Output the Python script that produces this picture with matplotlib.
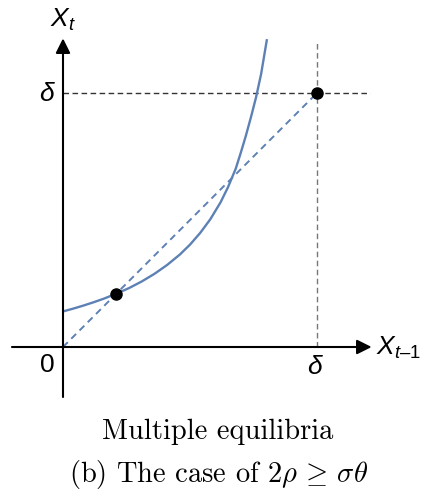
import numpy as np
import matplotlib as mpl
mpl.use('Agg')
import matplotlib.pyplot as plt

# curve X_t = f(X_{t-1}) (units of delta)
x_prev = [0.00, 0.04, 0.08, 0.12, 0.16, 0.21, 0.26, 0.31, 0.36, 0.41, 0.46,
          0.50, 0.54, 0.58, 0.62, 0.65, 0.68, 0.70, 0.72, 0.74, 0.76, 0.78,
          0.803]
x_next = [0.140, 0.151, 0.163, 0.176, 0.190, 0.210, 0.232, 0.258, 0.288,
          0.323, 0.364, 0.403, 0.449, 0.503, 0.569, 0.630, 0.702, 0.765,
          0.832, 0.905, 0.983, 1.075, 1.212]

# equilibria
eq_x = [0.21, 1.0]
eq_y = [0.21, 1.0]
delta = 1.0

blue = '#5E81B5'

plt.rcParams['mathtext.fontset'] = 'custom'
plt.rcParams['mathtext.it'] = 'Liberation Sans:italic'
plt.rcParams['mathtext.rm'] = 'Liberation Sans'

fig = plt.figure(figsize=(4.26, 5.02), dpi=100)
ax = fig.add_axes([0, 0, 1, 1])
ax.set_xlim(-63 / 254, 363 / 254)
ax.set_ylim(-154 / 254, 348 / 254)
ax.axis('off')

# axes with arrows
ax.annotate('', xy=(1.215, 0), xytext=(-0.201, 0),
            arrowprops=dict(arrowstyle='-|>', color='black', lw=1.5,
                            mutation_scale=22, shrinkA=0, shrinkB=0))
ax.annotate('', xy=(0, 1.215), xytext=(0, -0.197),
            arrowprops=dict(arrowstyle='-|>', color='black', lw=1.5,
                            mutation_scale=22, shrinkA=0, shrinkB=0))

# guides at delta
ax.plot([delta, delta], [0, 1.205], ls=(0, (4, 2.5)), color='#777777', lw=1)
ax.plot([0, 1.209], [delta, delta], ls=(0, (4, 2.5)), color='#333333', lw=1)

# 45 degree line and the map
ax.plot([0, delta], [0, delta], ls=(0, (3.5, 2.5)), color=blue, lw=1.4)
ax.plot(x_prev, x_next, color=blue, lw=1.7, solid_capstyle='butt',
        solid_joinstyle='round')
ax.plot(eq_x, eq_y, 'o', color='black', ms=8, zorder=5)

# labels
ax.text(0.0, 1.29, '$X_t$', fontsize=19, ha='center', va='center')
ax.text(1.234, 0.0, '$X_{t\u2013 1}$', fontsize=19, ha='left', va='center')
ax.text(-0.06, delta, r'$\delta$', fontsize=19, ha='center', va='center')
ax.text(delta - 0.008, -0.074, r'$\delta$', fontsize=19, ha='center',
        va='center')
ax.text(-0.06, -0.068, '0', fontsize=19, family='Liberation Sans',
        ha='center', va='center')

# captions
ax.text(0.61, -0.331, 'Multiple equilibria', fontsize=20.5, family='cmr10',
        ha='center', va='center')
ax.text(0.614, -0.497, r'(b) The case of $2\rho\,\geq\,\sigma\theta$',
        fontsize=20.5, family='cmr10', math_fontfamily='cm',
        ha='center', va='center')

fig.savefig('out.png', dpi=100)
